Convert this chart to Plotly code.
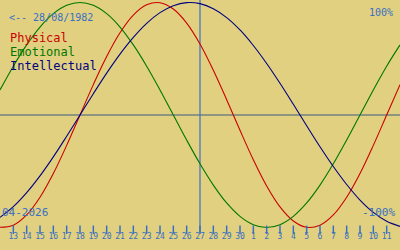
import plotly.graph_objects as go

# Day index 0..30 covers 12 Apr 2026 .. 12 May 2026
day_index = list(range(31))
physical = [-0.998, -0.979, -0.888, -0.731, -0.520, -0.270, 0.0, 0.270, 0.520, 0.731,
            0.888, 0.979, 0.998, 0.942, 0.817, 0.631, 0.398, 0.136, -0.136, -0.398,
            -0.631, -0.817, -0.942, -0.998, -0.979, -0.888, -0.731, -0.520, -0.270, 0.0, 0.270]
emotional = [0.223, 0.434, 0.623, 0.782, 0.901, 0.975, 1.0, 0.975, 0.901, 0.782,
             0.623, 0.434, 0.223, 0.0, -0.223, -0.434, -0.623, -0.782, -0.901, -0.975,
             -1.0, -0.975, -0.901, -0.782, -0.623, -0.434, -0.223, 0.0, 0.223, 0.434, 0.623]
intellectual = [-0.910, -0.815, -0.690, -0.541, -0.372, -0.189, 0.0, 0.189, 0.372, 0.541,
                0.690, 0.815, 0.910, 0.972, 0.999, 0.990, 0.945, 0.866, 0.756, 0.618,
                0.458, 0.282, 0.095, -0.095, -0.282, -0.458, -0.618, -0.756, -0.866, -0.945, -0.990]

tick_pos = list(range(1, 30))
tick_labels = [str(d) for d in list(range(13, 31)) + list(range(1, 12))]
today_index = 15

birth_text = "<-- 28/08/1982"
month_text = "04-2026"
series_names = ["Physical", "Emotional", "Intellectual"]
series_colors = ["#cc0000", "#007700", "#000080"]

BG = "#e0d080"
BLUE = "#3a6fc4"
MONO = "DejaVu Sans Mono"

YMAX = 1.0222
YMIN = -1.2

fig = go.Figure()

for name, vals, col in zip(series_names, [physical, emotional, intellectual], series_colors):
    fig.add_trace(go.Scatter(x=day_index, y=vals, mode="lines", name=name,
                             line=dict(color=col, width=1.1, shape="spline", smoothing=1.0),
                             hoverinfo="skip"))

# tick marks
fig.add_trace(go.Scatter(x=tick_pos, y=[-1.02] * len(tick_pos), mode="markers",
                         marker=dict(symbol="line-ns", size=6, line=dict(color=BLUE, width=1.5)),
                         hoverinfo="skip"))
# tick labels
fig.add_trace(go.Scatter(x=tick_pos, y=[-1.088] * len(tick_pos), mode="text",
                         text=tick_labels, textposition="middle center",
                         textfont=dict(family=MONO, size=8, color=BLUE),
                         hoverinfo="skip"))

fig.add_shape(type="line", xref="paper", yref="y", x0=0, x1=1, y0=0, y1=0,
              line=dict(color="#3d5a80", width=1), layer="below")
fig.add_shape(type="line", xref="x", yref="y", x0=today_index, x1=today_index, y0=-1.04, y1=YMAX,
              line=dict(color=BLUE, width=1.2), layer="below")

ann = [
    dict(text=birth_text, x=8, y=17, size=10, color=BLUE, xanchor="left"),
    dict(text="100%", x=394, y=12, size=10, color=BLUE, xanchor="right"),
    dict(text=series_names[0], x=9, y=38, size=12, color=series_colors[0], xanchor="left"),
    dict(text=series_names[1], x=9, y=52, size=12, color=series_colors[1], xanchor="left"),
    dict(text=series_names[2], x=9, y=66, size=12, color=series_colors[2], xanchor="left"),
    dict(text=month_text, x=1, y=212, size=11, color=BLUE, xanchor="left"),
    dict(text="-100%", x=396, y=212, size=11, color=BLUE, xanchor="right"),
]
for a in ann:
    fig.add_annotation(text=a["text"], xref="paper", yref="paper",
                       x=a["x"] / 400, y=1 - a["y"] / 250,
                       xanchor=a["xanchor"], yanchor="middle", showarrow=False,
                       borderpad=0,
                       font=dict(family=MONO, size=a["size"], color=a["color"]))

fig.update_layout(
    width=400, height=250,
    margin=dict(l=0, r=0, t=0, b=0),
    paper_bgcolor=BG, plot_bgcolor=BG,
    showlegend=False,
    xaxis=dict(range=[0, 30], visible=False, fixedrange=True),
    yaxis=dict(range=[YMIN, YMAX], visible=False, fixedrange=True),
)

fig.write_html("out.html", config={"displayModeBar": False})
